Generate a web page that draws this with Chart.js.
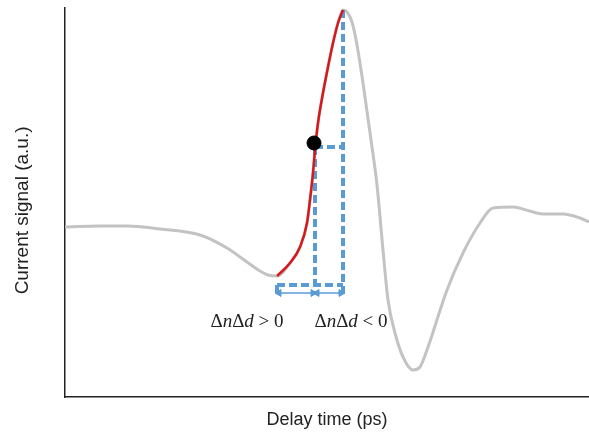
<!DOCTYPE html>
<html>
<head>
<meta charset="utf-8">
<script src="https://cdn.jsdelivr.net/npm/chart.js@4.4.1/dist/chart.umd.min.js"></script>
<style>
  html, body { margin: 0; padding: 0; background: #fff; }
  #wrap { width: 589px; height: 434px; }
</style>
</head>
<body>
<div id="wrap"><canvas id="chart" width="589" height="434"></canvas></div>
<script>
// =====================
// DATA (arbitrary units)
// =====================

// whole gray trace
const traceX = [0, 35, 62, 95, 135, 162, 182, 195, 203, 212,
  225, 235, 242, 245, 248, 250, 253, 258, 263, 268, 273, 278,
  282, 287, 292, 298, 306, 312, 318, 323, 330, 338, 348, 355, 362,
  382, 398, 415, 428, 448, 468, 478, 498, 515, 524];
const traceY = [170, 171, 171, 168, 162, 149, 135, 126, 122, 121,
  134, 150, 174, 197, 224, 247, 274, 304, 330, 354, 374, 387,
  385, 375, 352, 314, 257, 212, 147, 97, 64, 40, 27, 30, 47,
  107, 144, 174, 189, 190, 185, 183, 183, 179, 175];

// red rising edge (dip -> peak)
const riseX = [212, 225, 235, 242, 245, 248, 250, 253, 258, 263, 268, 273, 278];
const riseY = [121, 134, 150, 174, 197, 224, 247, 274, 304, 330, 354, 374, 387];

// probe point
const probeX = [249];
const probeY = [254];

// dashed guides [x1, y1, x2, y2]
const guides = [
  [250, 250, 250, 102],
  [278, 387, 278, 102],
  [250, 250, 278, 250],
  [212, 112, 278, 112],
  [212, 112, 212, 102]
];

// double arrows [x1, x2, y]
const arrows = [
  [214, 248, 104],
  [252, 276, 104]
];

// annotation labels
const labelX = [182, 286];
const labelY = [75, 75];
const labelSign = [">", "<"];

const BLUE = "#5b9bd5";

// =====================
// DATASETS
// =====================

const pts = (xs, ys) => xs.map((x, i) => ({ x, y: ys[i] }));

const datasets = [];

guides.forEach(g => {
  datasets.push({
    data: [{ x: g[0], y: g[1] }, { x: g[2], y: g[3] }],
    borderColor: BLUE,
    borderWidth: 4,
    borderDash: [8, 4],
    pointRadius: 0,
    order: 3
  });
});

arrows.forEach(a => {
  datasets.push({
    data: [{ x: a[0], y: a[2] }, { x: a[1], y: a[2] }],
    borderColor: BLUE,
    backgroundColor: BLUE,
    borderWidth: 1.5,
    pointStyle: "triangle",
    pointRadius: 4,
    pointRotation: [-90, 90],
    pointBorderWidth: 1,
    order: 3
  });
});

datasets.push({
  data: pts(traceX, traceY),
  borderColor: "#c3c3c3",
  borderWidth: 3,
  pointRadius: 0,
  cubicInterpolationMode: "monotone",
  order: 4
});

datasets.push({
  data: pts(riseX, riseY),
  borderColor: "#d7191c",
  borderWidth: 2.5,
  pointRadius: 0,
  cubicInterpolationMode: "monotone",
  order: 2
});

datasets.push({
  data: pts(probeX, probeY),
  showLine: false,
  pointRadius: 7,
  pointBackgroundColor: "#000",
  pointBorderColor: "#000",
  order: 1
});

// =====================
// LABEL PLUGIN (ΔnΔd > 0 etc.)
// =====================

const mathLabels = {
  id: "mathLabels",
  afterDatasetsDraw(chart) {
    const { ctx, scales } = chart;
    const size = 19;
    const up = `${size}px "Liberation Serif", "DejaVu Serif", serif`;
    const it = `italic ${size}px "Liberation Serif", "DejaVu Serif", serif`;
    labelX.forEach((lx, i) => {
      const runs = [
        ["Δ", up], ["n", it], ["Δ", up], ["d", it],
        [" " + labelSign[i] + " 0", up]
      ];
      ctx.save();
      ctx.fillStyle = "#222";
      ctx.textBaseline = "middle";
      let total = 0;
      runs.forEach(r => { ctx.font = r[1]; total += ctx.measureText(r[0]).width; });
      let x = scales.x.getPixelForValue(lx) - total / 2;
      const y = scales.y.getPixelForValue(labelY[i]);
      runs.forEach(r => {
        ctx.font = r[1];
        ctx.fillText(r[0], x, y);
        x += ctx.measureText(r[0]).width;
      });
      ctx.restore();
    });
  }
};

// =====================
// CHART
// =====================

new Chart(document.getElementById("chart"), {
  type: "line",
  data: { datasets },
  options: {
    responsive: false,
    animation: false,
    layout: { autoPadding: false, padding: { left: 0, top: 8, right: 0, bottom: 0 } },
    plugins: { legend: { display: false }, tooltip: { enabled: false } },
    scales: {
      x: {
        type: "linear",
        min: 0,
        max: 524,
        grid: { display: false, drawTicks: false },
        border: { color: "#222", width: 1.5 },
        ticks: { display: false },
        title: {
          display: true,
          text: "Delay time (ps)",
          color: "#222",
          font: { family: "'Liberation Sans', Arial, sans-serif", size: 18 },
          padding: { top: 0, bottom: 3 }
        },
        afterFit: s => { s.height = 37; s.paddingLeft = 0; s.paddingRight = 0; }
      },
      y: {
        min: 0,
        max: 389,
        grid: { display: false, drawTicks: false },
        border: { color: "#222", width: 1.5 },
        ticks: { display: false },
        title: {
          display: true,
          text: "Current signal (a.u.)   ",
          color: "#222",
          font: { family: "'Liberation Sans', Arial, sans-serif", size: 19 },
          padding: { top: 11, bottom: 0 }
        },
        afterFit: s => { s.width = 65; }
      }
    }
  },
  plugins: [mathLabels]
});
</script>
</body>
</html>
